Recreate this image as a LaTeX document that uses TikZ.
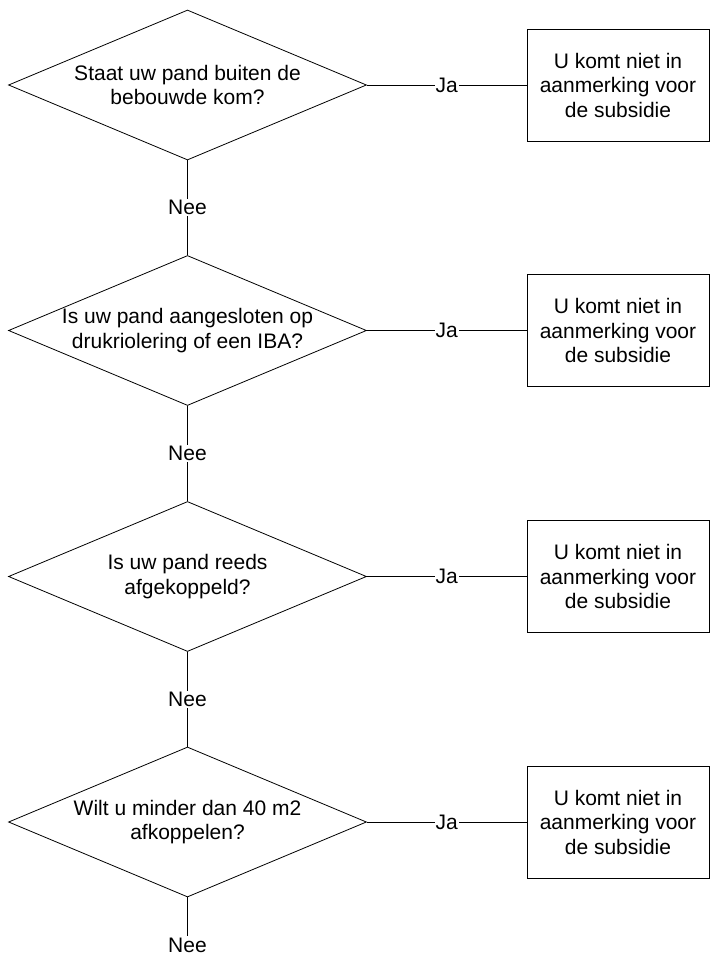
\documentclass[tikz,border=0pt]{standalone}
\usepackage{fontspec}
\setmainfont{Liberation Sans}
\usetikzlibrary{shapes.geometric}
\begin{document}
\begin{tikzpicture}[x=1pt,y=1pt,
  font=\fontsize{21}{24.5}\selectfont,
  question/.style={draw, line width=0.8pt, shape=diamond, shape aspect=2.387,
    minimum width=358pt, minimum height=150pt, inner sep=0pt, align=center},
  result/.style={draw, line width=0.8pt, minimum width=182pt, minimum height=112pt,
    inner sep=0pt, align=center},
  lbl/.style={fill=white, inner sep=1pt},
  conn/.style={line width=0.8pt}]
\useasboundingbox (0,0) rectangle (710,-955);
\node[question] (q1) at (187.5,-85) {Staat uw pand buiten de\\bebouwde kom?};
\node[question] (q2) at (187.5,-330.5) {Is uw pand aangesloten op\\drukriolering of een IBA?};
\node[question] (q3) at (187.5,-576.5) {Is uw pand reeds\\afgekoppeld?};
\node[question] (q4) at (187.5,-822) {Wilt u minder dan 40 m2\\afkoppelen?};
\node[result] (r1) at (618,-85) {U komt niet in\\aanmerking voor\\de subsidie};
\node[result] (r2) at (618,-330.5) {U komt niet in\\aanmerking voor\\de subsidie};
\node[result] (r3) at (618,-576.5) {U komt niet in\\aanmerking voor\\de subsidie};
\node[result] (r4) at (618,-822) {U komt niet in\\aanmerking voor\\de subsidie};
\node[lbl] (n4) at (187.5,-945) {Nee};
\draw[conn] (q1.east) -- node[lbl] {Ja} (r1.west);
\draw[conn] (q2.east) -- node[lbl] {Ja} (r2.west);
\draw[conn] (q3.east) -- node[lbl] {Ja} (r3.west);
\draw[conn] (q4.east) -- node[lbl] {Ja} (r4.west);
\draw[conn] (q1.south) -- node[lbl] {Nee} (q2.north);
\draw[conn] (q2.south) -- node[lbl] {Nee} (q3.north);
\draw[conn] (q3.south) -- node[lbl] {Nee} (q4.north);
\draw[conn] (q4.south) -- (n4.north);
\end{tikzpicture}
\end{document}
